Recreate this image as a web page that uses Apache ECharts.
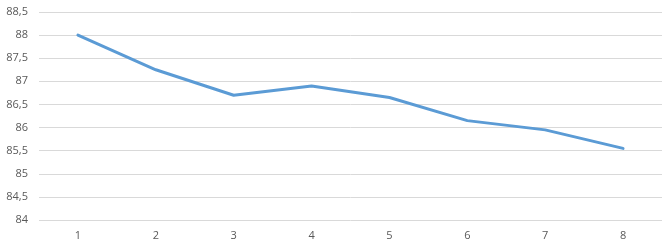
<!DOCTYPE html>
<html><head><meta charset="utf-8">
<script src="https://cdn.jsdelivr.net/npm/echarts@6/dist/echarts.min.js"></script>
<style>html,body{margin:0;padding:0;background:#fff}#c{width:672px;height:246px}</style>
</head><body><div id="c"></div>
<script>
var categories = ['1','2','3','4','5','6','7','8'];
var values = [88.0, 87.25, 86.7, 86.9, 86.65, 86.15, 85.95, 85.55];
var yTicks = [84, 88.5, 0.5];

var chart = echarts.init(document.getElementById('c'), null, {renderer:'canvas'});
chart.setOption({
  animation:false,
  backgroundColor:'#fff',
  grid:{left:39,right:10,top:12,bottom:26},
  xAxis:{type:'category',data:categories,boundaryGap:true,
    axisLine:{show:false},axisTick:{show:false},
    axisLabel:{color:'#595959',fontSize:11,fontFamily:'Open Sans',margin:10}},
  yAxis:{type:'value',min:yTicks[0],max:yTicks[1],interval:yTicks[2],
    axisLine:{show:false},axisTick:{show:false},
    splitLine:{lineStyle:{color:'#d9d9d9',width:1}},
    axisLabel:{color:'#595959',fontSize:11,fontFamily:'Open Sans',margin:11,
      formatter:function(v){return String(v).replace('.',',');}}},
  series:[{type:'line',data:values,symbol:'none',smooth:false,
    lineStyle:{color:'#5B9BD5',width:3,cap:'round',join:'round'}}]
});
</script></body></html>
